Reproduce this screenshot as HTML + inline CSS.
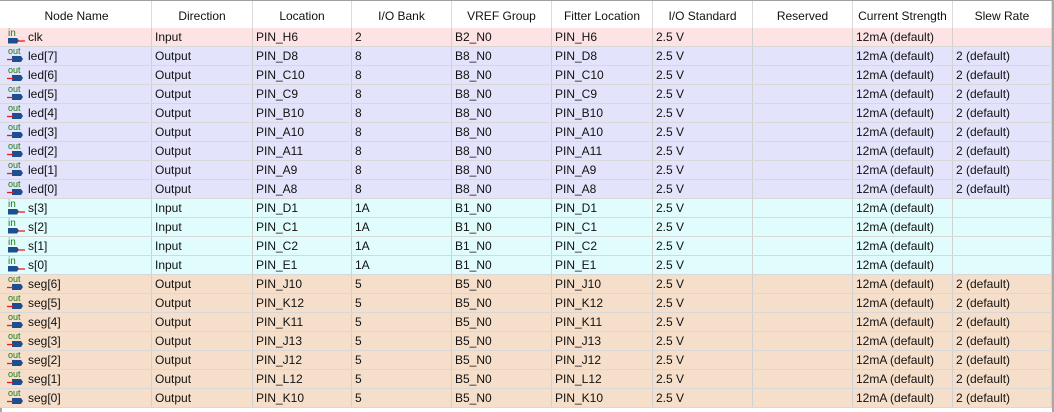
<!DOCTYPE html>
<html><head><meta charset="utf-8"><style>
body{margin:0;width:1054px;height:412px;background:#fff;overflow:hidden;font-family:"Liberation Sans","DejaVu Sans",sans-serif;font-size:12px;color:#111;position:relative}
.hdr{position:absolute;top:0;left:0;width:1052px;height:28px;border-top:1px solid #a0a0a0;box-sizing:border-box;background:#fff}
.hc{position:absolute;top:0;height:28px;line-height:30px;text-align:center;border-right:1px solid #dcdcdc;box-sizing:border-box}
.row{position:absolute;left:0;width:1052px;border-bottom:1px solid #d8d8d8;box-sizing:border-box}
.c{position:absolute;top:0;bottom:0;border-right:1px solid #d0d0d0;box-sizing:border-box;padding-left:3px;line-height:19px;white-space:nowrap}
.ic{position:absolute;left:4px;top:0;width:22px;height:19px}
.lb{position:absolute;left:0;top:0;width:2px;height:412px;background:#a8a8a8}
.rb{position:absolute;left:1052px;top:0;width:2px;height:412px;background:#a8a8a8}
</style></head><body>
<div class="lb"></div>
<div class="rb"></div>
<div class="hdr" id="hdr"></div>
<div id="body"></div>
<script>
const headers=["Node Name","Direction","Location","I/O Bank","VREF Group","Fitter Location","I/O Standard","Reserved","Current Strength","Slew Rate"];
const colX=[2,152,253,352,452,552,653,753,853,953,1052];
const names=["clk","led[7]","led[6]","led[5]","led[4]","led[3]","led[2]","led[1]","led[0]","s[3]","s[2]","s[1]","s[0]","seg[6]","seg[5]","seg[4]","seg[3]","seg[2]","seg[1]","seg[0]"];
const dirs=["Input","Output","Output","Output","Output","Output","Output","Output","Output","Input","Input","Input","Input","Output","Output","Output","Output","Output","Output","Output"];
const locs=["PIN_H6","PIN_D8","PIN_C10","PIN_C9","PIN_B10","PIN_A10","PIN_A11","PIN_A9","PIN_A8","PIN_D1","PIN_C1","PIN_C2","PIN_E1","PIN_J10","PIN_K12","PIN_K11","PIN_J13","PIN_J12","PIN_L12","PIN_K10"];
const banks=["2","8","8","8","8","8","8","8","8","1A","1A","1A","1A","5","5","5","5","5","5","5"];
const vrefs=["B2_N0","B8_N0","B8_N0","B8_N0","B8_N0","B8_N0","B8_N0","B8_N0","B8_N0","B1_N0","B1_N0","B1_N0","B1_N0","B5_N0","B5_N0","B5_N0","B5_N0","B5_N0","B5_N0","B5_N0"];
const hdr=document.getElementById('hdr');
headers.forEach((h,i)=>{const d=document.createElement('div');d.className='hc';d.style.left=colX[i]+'px';d.style.width=(colX[i+1]-colX[i])+'px';d.textContent=h;


hdr.appendChild(d);});
const body=document.getElementById('body');
function bg(n){if(n==='clk')return'#fde3e3';if(n.startsWith('led'))return'#e3e3fb';if(n.startsWith('seg'))return'#f6dfca';return'#e0fcfc';}
const H=19;
names.forEach((n,i)=>{
 const r=document.createElement('div');r.className='row';
 r.style.top=(28+i*H)+'px';r.style.height=H+'px';r.style.background=bg(n);
 
 
 const isIn=dirs[i]==='Input';
 const out=dirs[i]==='Output';
 const vals=[n,dirs[i],locs[i],banks[i],vrefs[i],locs[i],"2.5 V","","12mA (default)",out?"2 (default)":""];
 vals.forEach((v,j)=>{const c=document.createElement('div');c.className='c';c.style.left=colX[j]+'px';c.style.width=(colX[j+1]-colX[j])+'px';
  if(j===0){c.style.paddingLeft='26px';
   c.innerHTML=isIn?'<svg class="ic" viewBox="0 0 22 19"><text x="2" y="8" font-size="10" fill="#1a7a1a" font-family="Liberation Sans,sans-serif">in</text><path d="M2 10h9l2 2.5-2 3H2z" fill="#1b4f8f"/><path d="M12 13h7" stroke="#e02020" stroke-width="1.3"/></svg>':'<svg class="ic" viewBox="0 0 22 19"><text x="2" y="7" font-size="9" fill="#1a7a1a" font-family="Liberation Sans,sans-serif">out</text><path d="M6 9h9l2 3-2 3H6z" fill="#1b4f8f"/><path d="M1 12.5h6" stroke="#e02020" stroke-width="1.3"/></svg>';
   c.appendChild(document.createTextNode(v));}
  else c.textContent=v;
  
  
  r.appendChild(c);});
 body.appendChild(r);
});
</script>
</body></html>
